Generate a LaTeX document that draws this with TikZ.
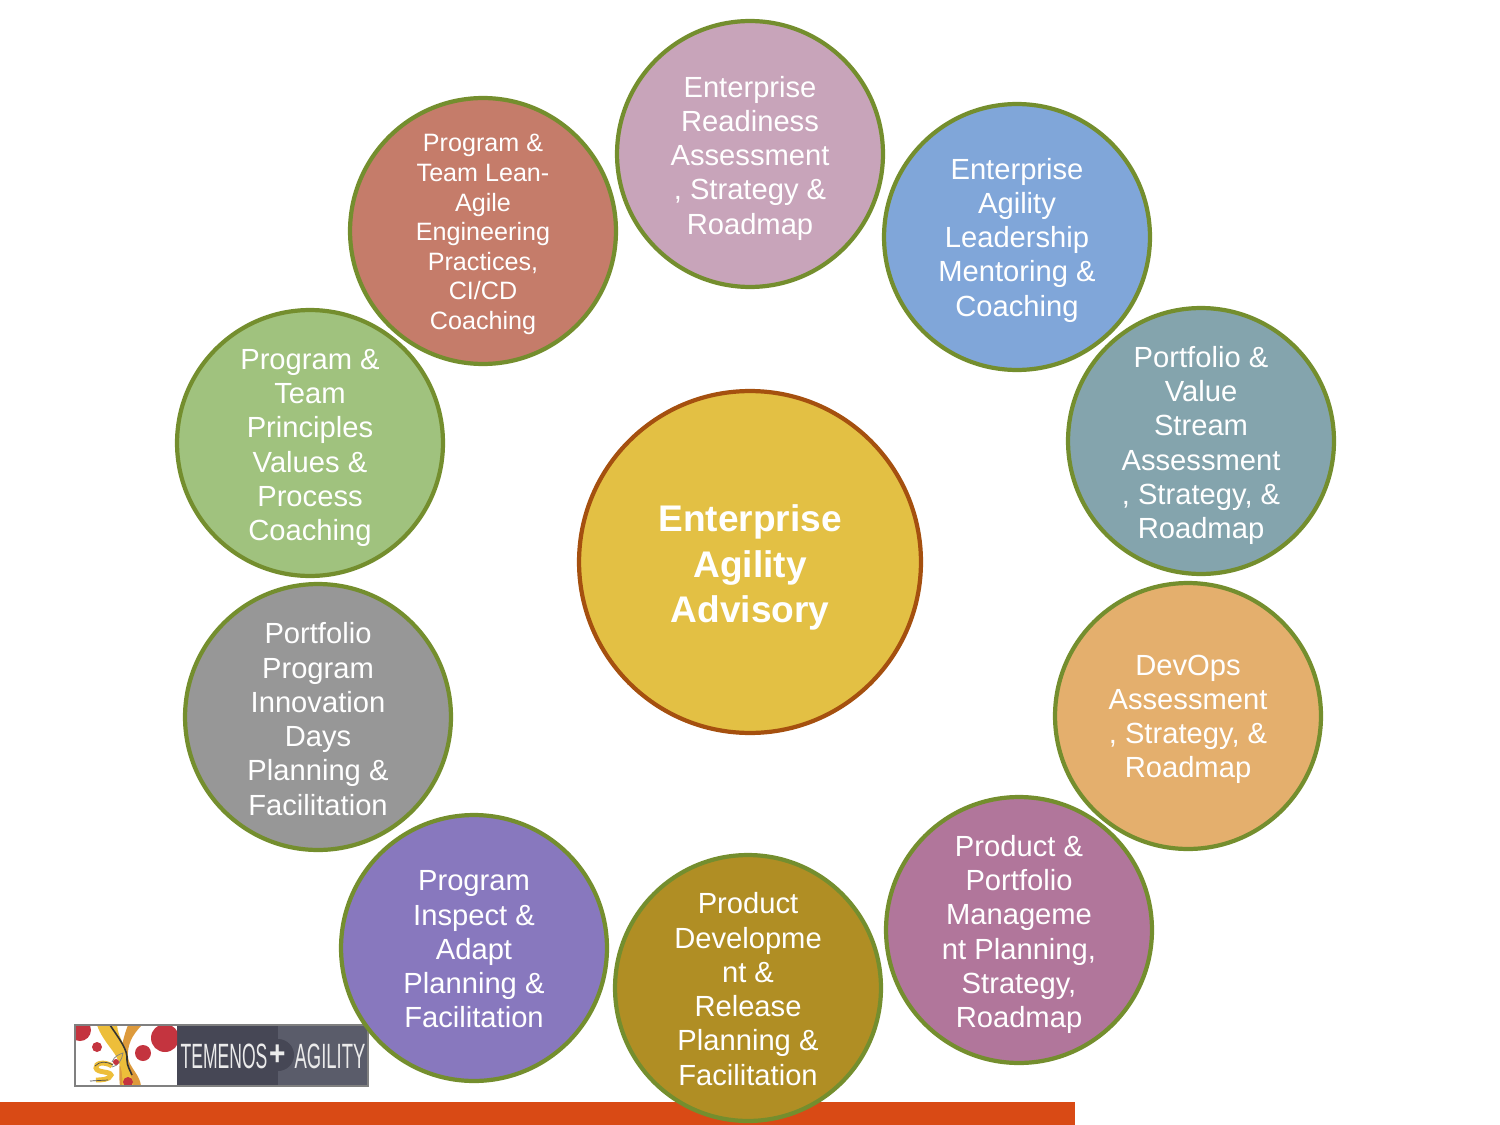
\documentclass[tikz,border=0pt]{standalone}
\usepackage{fontspec}
\setmainfont{Liberation Sans}
\usepackage{tikz}
\usetikzlibrary{positioning}
\definecolor{ringline}{HTML}{748E2E}
\definecolor{hubfill}{HTML}{E3C044}
\definecolor{hubline}{HTML}{A5500F}
\definecolor{barfill}{HTML}{D94A15}
\definecolor{logodark}{HTML}{464755}
\definecolor{logolight}{HTML}{5A5C6A}
\definecolor{logored}{HTML}{C4343F}
\definecolor{logogold}{HTML}{EDBE3A}
\definecolor{logoorange}{HTML}{DD9A3C}
\definecolor{c1}{HTML}{C8A4BA}
\definecolor{c2}{HTML}{80A6D9}
\definecolor{c3}{HTML}{84A4AD}
\definecolor{c4}{HTML}{E4AF6D}
\definecolor{c5}{HTML}{B1769B}
\definecolor{c6}{HTML}{B08E24}
\definecolor{c7}{HTML}{8878BE}
\definecolor{c8}{HTML}{979797}
\definecolor{c9}{HTML}{A0C27E}
\definecolor{c10}{HTML}{C57C6A}
\newcommand{\lift}[1]{\rule{0pt}{#1}}
\tikzstyle{service}=[circle,draw=ringline,line width=2.4pt,minimum size=5.32cm,inner sep=0pt,align=center,text=white,font=\fontsize{16.6}{19.5}\selectfont]
\tikzstyle{hub}=[service,draw=hubline,fill=hubfill,minimum size=6.84cm,font=\fontsize{21.1}{25.9}\selectfont\bfseries]
\tikzstyle{logo text}=[text=white!92!black,inner sep=0pt,font=\fontsize{20}{22}\selectfont,xscale=.5,transform shape]

\begin{document}
\begin{tikzpicture}[x=0.02cm,y=-0.02cm]
	\useasboundingbox (0,0) rectangle (1500,1125);

	% Bottom bar
	\fill[barfill] (0,1102) rectangle (1075,1125);

	% Draw the logo
	\fill[white] (75,1025) rectangle (177,1086);
	\fill[logodark] (177,1025) rectangle (278,1086);
	\fill[logolight] (278,1025) rectangle (368,1086);
	\fill[logodark] (278,1071) arc (90:-90:16) -- cycle;
	\begin{scope}
		\clip (75,1025) rectangle (177,1086);
		\fill[logored] (80,1030) circle (11);
		\fill[logored] (165,1038) circle (14);
		\fill[logored] (97,1047) circle (5);
		\fill[logored] (143,1053) circle (8);
		\fill[logoorange] (128,1025) -- (142,1025) .. controls (132,1035) and (127,1045) .. (128,1058) .. controls (130,1068) and (140,1075) .. (141,1086) -- (120,1086) .. controls (118,1070) and (120,1045) .. (128,1025) -- cycle;
		\fill[logogold] (97,1025) -- (117,1025) .. controls (118,1040) and (130,1050) .. (128,1062) .. controls (128,1072) and (134,1080) .. (133,1086) -- (122,1086) .. controls (124,1070) and (118,1058) .. (112,1050) .. controls (106,1042) and (100,1034) .. (97,1025) -- cycle;
		\fill[logored] (128,1082) circle (5);
		\draw[black!80,line width=.9pt] (110,1025) .. controls (120,1040) and (128,1050) .. (127,1060) .. controls (127,1066) and (130,1070) .. (132,1075);
		\draw[gray,line width=.4pt] (112,1062) .. controls (114,1056) and (120,1054) .. (123,1053) .. controls (122,1060) and (118,1066) .. (112,1067);
		\fill[logored] (116,1062) circle (3);
		\draw[logogold,line width=2.8pt] (112,1066) .. controls (104,1061) and (95,1063) .. (96,1068) .. controls (97,1073) and (110,1071) .. (111,1075) .. controls (110,1080) and (100,1080) .. (96,1080);
		\draw[black!70,line width=.4pt] (90,1081) -- (108,1080) (95,1066) .. controls (100,1061) and (106,1061) .. (113,1065);
	\end{scope}
	\draw[gray,line width=.7pt] (75,1025) rectangle (368,1086);
	\node[logo text] (temenos) at (224,1056) {TEMENOS};
	\node[logo text,font=\fontsize{20}{22}\selectfont\bfseries,xscale=1.6] (plus) at (278,1055) {+};
	\node[logo text,xscale=1.05] (agility) at (330,1056) {AGILITY};

	% Draw the ring of services
	\foreach \name/\x/\y/\col/\up/\txt in {
		readiness/750/154/c1/16.6/{Enterprise\\Readiness\\Assessment\\, Strategy \&\\Roadmap},
		leadership/1017/237/c2/15.5/{Enterprise\\Agility\\Leadership\\Mentoring \&\\Coaching},
		valuestream/1201/441/c3/17.2/{Portfolio \&\\Value\\Stream\\Assessment\\, Strategy, \&\\Roadmap},
		devops/1188/716/c4/15.5/{DevOps\\Assessment\\, Strategy, \&\\Roadmap},
		portfolio/1019/930/c5/17.2/{Product \&\\Portfolio\\Manageme\\nt Planning,\\Strategy,\\Roadmap},
		release/748/988/c6/13.2/{Product\\Developme\\nt \&\\Release\\Planning \&\\Facilitation},
		inspect/474/948/c7/13.2/{Program\\Inspect \&\\Adapt\\Planning \&\\Facilitation},
		innovation/318/717/c8/14.3/{Portfolio\\Program\\Innovation\\Days\\Planning \&\\Facilitation},
		principles/310/443/c9/17.2/{Program \&\\Team\\Principles\\Values \&\\Process\\Coaching}}
	\node[service,fill=\col] (\name) at (\x,\y) {\lift{\up pt}\txt};

	% This one has seven lines, so a smaller font
	\node[service,fill=c10,font=\fontsize{14.3}{16.8}\selectfont] (engineering) at (483,231) {\lift{13.8pt}Program \&\\Team Lean-\\Agile\\Engineering\\Practices,\\CI/CD\\Coaching};

	% Draw the centre
	\node[hub] (centre) at (750,562) {\lift{21.6pt}Enterprise\\Agility\\Advisory};
\end{tikzpicture}
\end{document}
